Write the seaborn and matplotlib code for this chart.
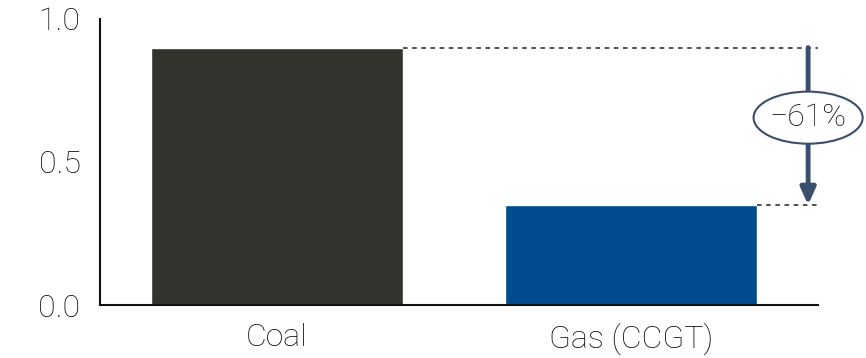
import seaborn as sns
import matplotlib.pyplot as plt
from matplotlib.patches import Ellipse

categories = ["Coal", "Gas (CCGT)"]
values = [0.90, 0.35]
bar_colors = ["#33322d", "#004b8d"]
change_label = "\u221261%"

sns.set_style("white")
plt.rcParams["font.family"] = ["Roboto", "DejaVu Sans"]

fig = plt.figure(figsize=(8.66, 3.58), dpi=100)
ax = fig.add_axes([0.1155, 0.148, 0.8291, 0.799])

sns.barplot(x=categories, y=values, hue=categories, palette=bar_colors,
            width=0.71, legend=False, ax=ax, saturation=1)

ax.set_xlim(-0.5, 1.528)
ax.set_ylim(0, 1.0)
ax.set_yticks([0.0, 0.5, 1.0])
ax.set_yticklabels(["0.0", "0.5", "1.0"])
sns.despine(ax=ax)
for s in ["left", "bottom"]:
    ax.spines[s].set_linewidth(1.5)
    ax.spines[s].set_color("#111111")
ax.tick_params(axis="y", length=8, width=1.5, color="#111111", labelsize=23, pad=6)
ax.tick_params(axis="x", length=0, labelsize=23, pad=13)
for lbl in ax.get_xticklabels() + ax.get_yticklabels():
    lbl.set_color("#111111")
    lbl.set_fontweight("light")

# dashed reference lines from bar tops
half = 0.71 / 2
ax.plot([0 + half, 1.528], [values[0], values[0]], ls=(0, (3, 3)), lw=1.1, color="#222222")
ax.plot([1 + half, 1.528], [values[1], values[1]], ls=(0, (3, 3)), lw=1.1, color="#222222")

# arrow showing drop
arrow_x = 1.5
ax.annotate("", xy=(arrow_x, values[1]), xytext=(arrow_x, values[0]),
            arrowprops=dict(arrowstyle="-|>,head_length=1.0,head_width=0.45",
                            color="#3a4e6e", lw=3.5, shrinkA=0, shrinkB=0))

ell_y = 0.655
ax.add_patch(Ellipse((arrow_x, ell_y), 0.308, 0.182, facecolor="white",
                     edgecolor="#3a4e6e", lw=1.5, zorder=5, clip_on=False))
ax.text(arrow_x, ell_y, change_label, ha="center", va="center", fontsize=23,
        color="#111111", zorder=6, fontweight="light")

fig.savefig("out.png", dpi=100)
